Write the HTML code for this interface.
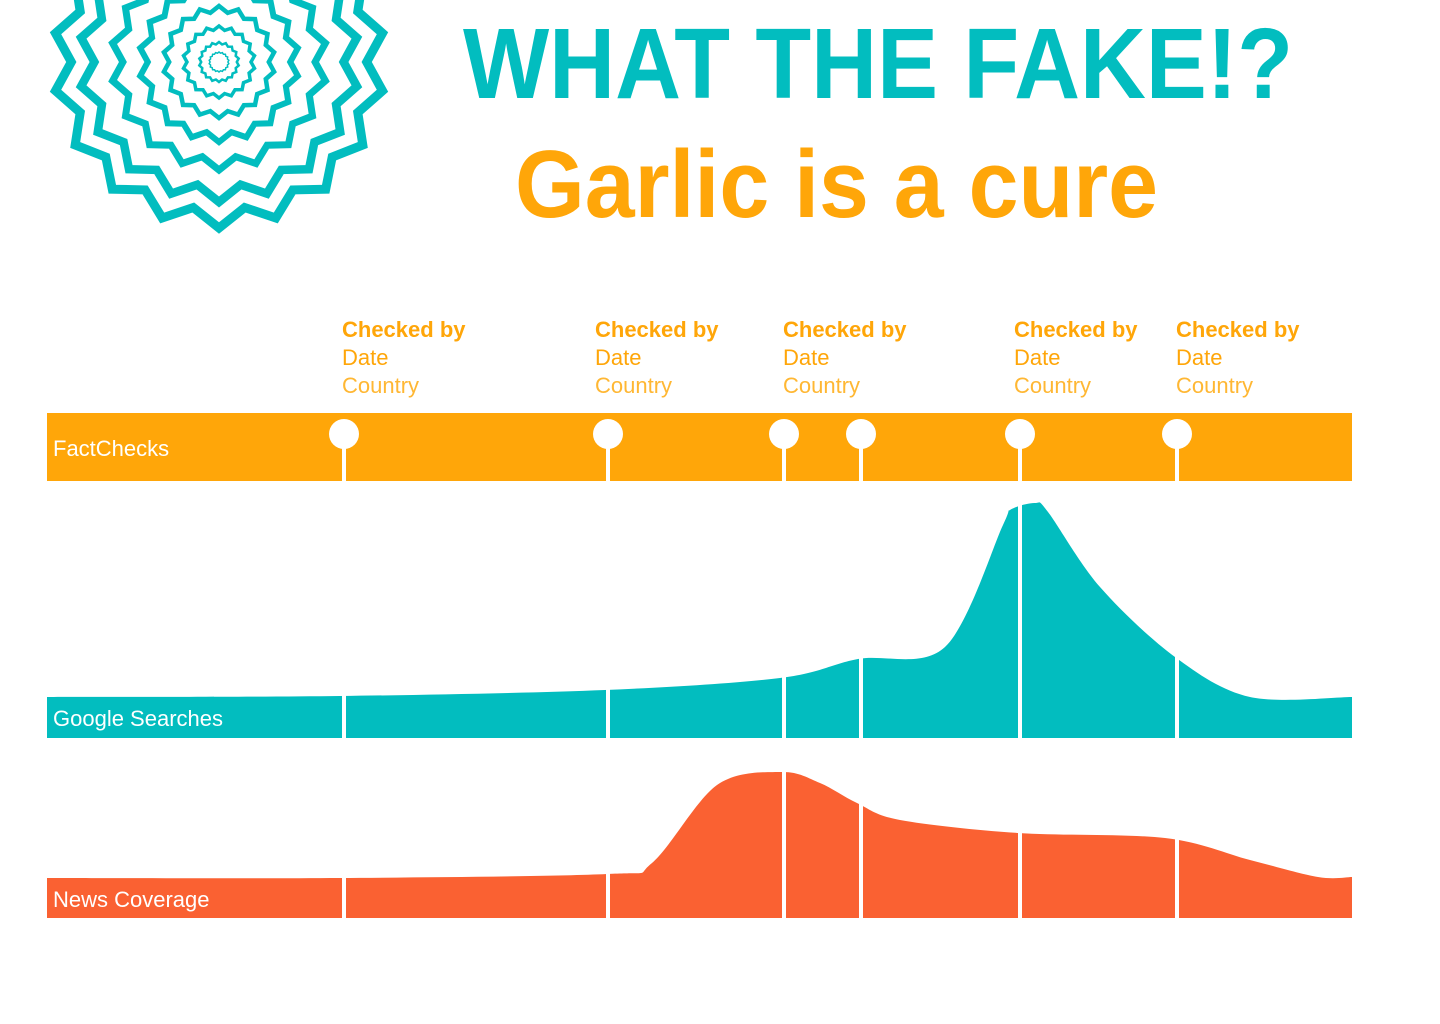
<!DOCTYPE html>
<html><head><meta charset="utf-8"><style>
html,body{margin:0;padding:0;background:#fff;width:1440px;height:1024px;overflow:hidden}
svg{display:block}
text{font-family:"Liberation Sans",sans-serif}
</style></head><body>
<svg id="chart" width="1440" height="1024">
  <g id="logo"></g>
  <text x="463" y="98" font-size="100" font-weight="bold" fill="#02BDBF" textLength="830" lengthAdjust="spacingAndGlyphs">WHAT THE FAKE!?</text>
  <text x="515" y="217" font-size="96" font-weight="bold" fill="#FFA609" textLength="643" lengthAdjust="spacingAndGlyphs">Garlic is a cure</text>
  <g id="labels"></g>
  <rect x="47" y="413" width="1305" height="68" fill="#FFA609"/>
  <g id="marks"></g>
  <text x="53" y="456" font-size="22" fill="#fff">FactChecks</text>
  <text x="53" y="726" font-size="22" fill="#fff">Google Searches</text>
  <text x="53" y="907" font-size="22" fill="#fff">News Coverage</text>
</svg>
<script>
const checkDates = [296, 560, 736, 813, 972, 1129];
const checkLabelDates = [295, 548, 736, 967, 1129];
const searchDates = [0, 293, 558, 733, 811, 898, 956, 963, 988, 1001, 1053, 1128, 1203, 1305];
const searchValues = [41, 42, 48, 60, 79, 91, 213, 228, 235, 226, 151, 81, 41, 41];
const newsDates = [0, 293, 560, 605, 670, 735, 773, 810, 853, 971, 1118, 1203, 1271, 1305];
const newsValues = [40, 40, 44, 55, 133, 146, 135, 115, 98, 85, 80, 58, 41, 41];

const NS = "http://www.w3.org/2000/svg";
const X = d => 47 + d;
const ySearch = v => 738 - v;
const yNews = v => 918 - v;
function mk(tag, attrs, parent){const e=document.createElementNS(NS,tag);for(const k in attrs)e.setAttribute(k,attrs[k]);parent.appendChild(e);return e;}
function smoothPath(xs, ys, base){
  let d = `M${xs[0]},${base} L${xs[0]},${ys[0]}`;
  for(let i=0;i<xs.length-1;i++){
    const p0=[xs[Math.max(i-1,0)],ys[Math.max(i-1,0)]],p1=[xs[i],ys[i]],p2=[xs[i+1],ys[i+1]],p3=[xs[Math.min(i+2,xs.length-1)],ys[Math.min(i+2,xs.length-1)]];
    const t=0.16;
    const c1=[p1[0]+(p2[0]-p0[0])*t,p1[1]+(p2[1]-p0[1])*t];
    const c2=[p2[0]-(p3[0]-p1[0])*t,p2[1]-(p3[1]-p1[1])*t];
    d+=` C${c1[0]},${c1[1]} ${c2[0]},${c2[1]} ${p2[0]},${p2[1]}`;
  }
  return d+` L${xs[xs.length-1]},${base} Z`;
}
const marks = document.getElementById('marks');
const sp = mk('path',{d:smoothPath(searchDates.map(X),searchValues.map(ySearch),738),fill:'#02BDBF'},marks);


const np = mk('path',{d:smoothPath(newsDates.map(X),newsValues.map(yNews),918),fill:'#FA6132'},marks);


checkDates.forEach((d,i)=>{
  const x = X(d)+1;
  const g = mk('g',{},marks);
  
  
  mk('line',{x1:x,y1:434,x2:x,y2:481,stroke:'#fff','stroke-width':4},g);
  mk('circle',{cx:x,cy:434,r:15,fill:'#fff'},g);
  const dl = mk('line',{x1:x,y1:500,x2:x,y2:738,stroke:'#fff','stroke-width':4},marks);
  
  
  const dn = mk('line',{x1:x,y1:760,x2:x,y2:918,stroke:'#fff','stroke-width':4},marks);
  
  
});
const labels = document.getElementById('labels');
checkLabelDates.forEach(d=>{
  const x = X(d);
  const g = mk('g',{},labels);
  
  
  const a = mk('text',{x:x,y:337,'font-size':22,'font-weight':'bold',fill:'#FFA609'},g); a.textContent='Checked by';
  const b = mk('text',{x:x,y:365,'font-size':22,fill:'#FFA609'},g); b.textContent='Date';
  const c = mk('text',{x:x,y:393,'font-size':22,fill:'#FFB733'},g); c.textContent='Country';
});
const ringR = [166, 140, 108, 80, 56, 36, 20, 10];
const ringW = [9, 8.5, 7, 6, 4.5, 3.5, 2.5, 1.5];
const logo = document.getElementById('logo');
ringR.forEach((R,k)=>{
  const n=18, pts=[];
  for(let i=0;i<2*n;i++){
    const a = Math.PI/2 + i*Math.PI/n;
    const r = i%2 ? R*0.89 : R;
    pts.push((219+r*Math.cos(a)).toFixed(1)+','+(62+r*Math.sin(a)).toFixed(1));
  }
  const p = mk('polygon',{points:pts.join(' '),fill:'none',stroke:'#02BDBF','stroke-width':ringW[k],'stroke-linejoin':'miter'},logo);
  
  
});
</script>
</body></html>
